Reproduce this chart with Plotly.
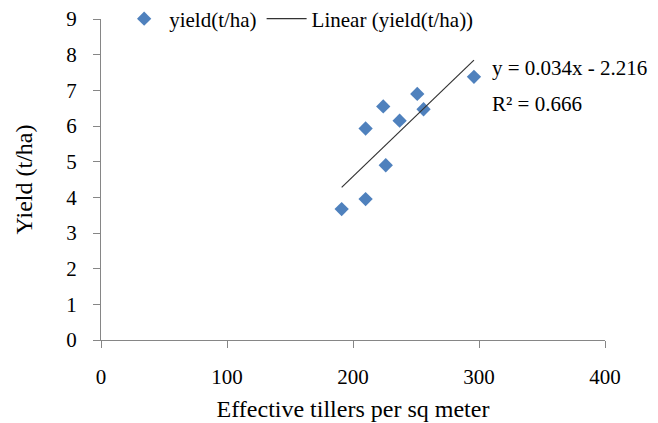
import plotly.graph_objects as go

tillers = [191, 210, 226, 210, 224, 237, 251, 256, 296]
yields = [3.67, 3.95, 4.9, 5.93, 6.55, 6.15, 6.9, 6.47, 7.38]
slope = 0.034
intercept = -2.216
r2 = 0.666
x_ticks = [0, 100, 200, 300, 400]
y_ticks = list(range(0, 10))

font_family = "Liberation Serif, Times New Roman, serif"
axis_color = "#868686"

fit_x = [min(tillers), max(tillers)]
fit_y = [slope * v + intercept for v in fit_x]

fig = go.Figure()
fig.add_trace(go.Scatter(
    x=tillers, y=yields, mode="markers", name="yield(t/ha)",
    marker=dict(symbol="diamond", size=11, color="#4F81BD"),
))
fig.add_trace(go.Scatter(
    x=fit_x, y=fit_y, mode="lines", name="Linear (yield(t/ha))",
    line=dict(color="#333333", width=1.2),
))

fig.add_annotation(
    x=0.772, y=0.847, xref="paper", yref="paper", xanchor="left", yanchor="middle",
    text=f"y = {slope:.3f}x - {abs(intercept):.3f}", showarrow=False,
    font=dict(family=font_family, size=21, color="#000000"),
)
fig.add_annotation(
    x=0.772, y=0.735, xref="paper", yref="paper", xanchor="left", yanchor="middle",
    text=f"R² = {r2:.3f}", showarrow=False,
    font=dict(family=font_family, size=21, color="#000000"),
)

fig.update_layout(
    width=658, height=423,
    margin=dict(l=93, r=61, t=11, b=91, autoexpand=False),
    paper_bgcolor="white", plot_bgcolor="white",
    font=dict(family=font_family, size=21, color="#000000"),
    showlegend=True,
    legend=dict(
        orientation="h", x=0.036, y=1.0, xanchor="left", yanchor="middle",
        bgcolor="rgba(0,0,0,0)", font=dict(family=font_family, size=21),
        itemwidth=40,
    ),
    xaxis=dict(
        range=[0, 400], tickvals=x_ticks, ticks="outside", ticklen=7,
        tickcolor=axis_color, showline=True, linecolor=axis_color, linewidth=1,
        showgrid=False, zeroline=False, ticklabelstandoff=11,
        ticklabeloverflow="allow",
        tickfont=dict(family=font_family, size=21),
        title=dict(text="Effective tillers per sq meter", standoff=11,
                   font=dict(family=font_family, size=24)),
    ),
    yaxis=dict(
        range=[0, 9], tickvals=y_ticks, ticks="outside", ticklen=7,
        tickcolor=axis_color, showline=True, linecolor=axis_color, linewidth=1,
        showgrid=False, zeroline=False, ticklabelstandoff=12,
        ticklabeloverflow="allow",
        tickfont=dict(family=font_family, size=21),
        title=dict(text="Yield (t/ha)", standoff=26,
                   font=dict(family=font_family, size=24)),
    ),
)

fig.write_html("out.html")
